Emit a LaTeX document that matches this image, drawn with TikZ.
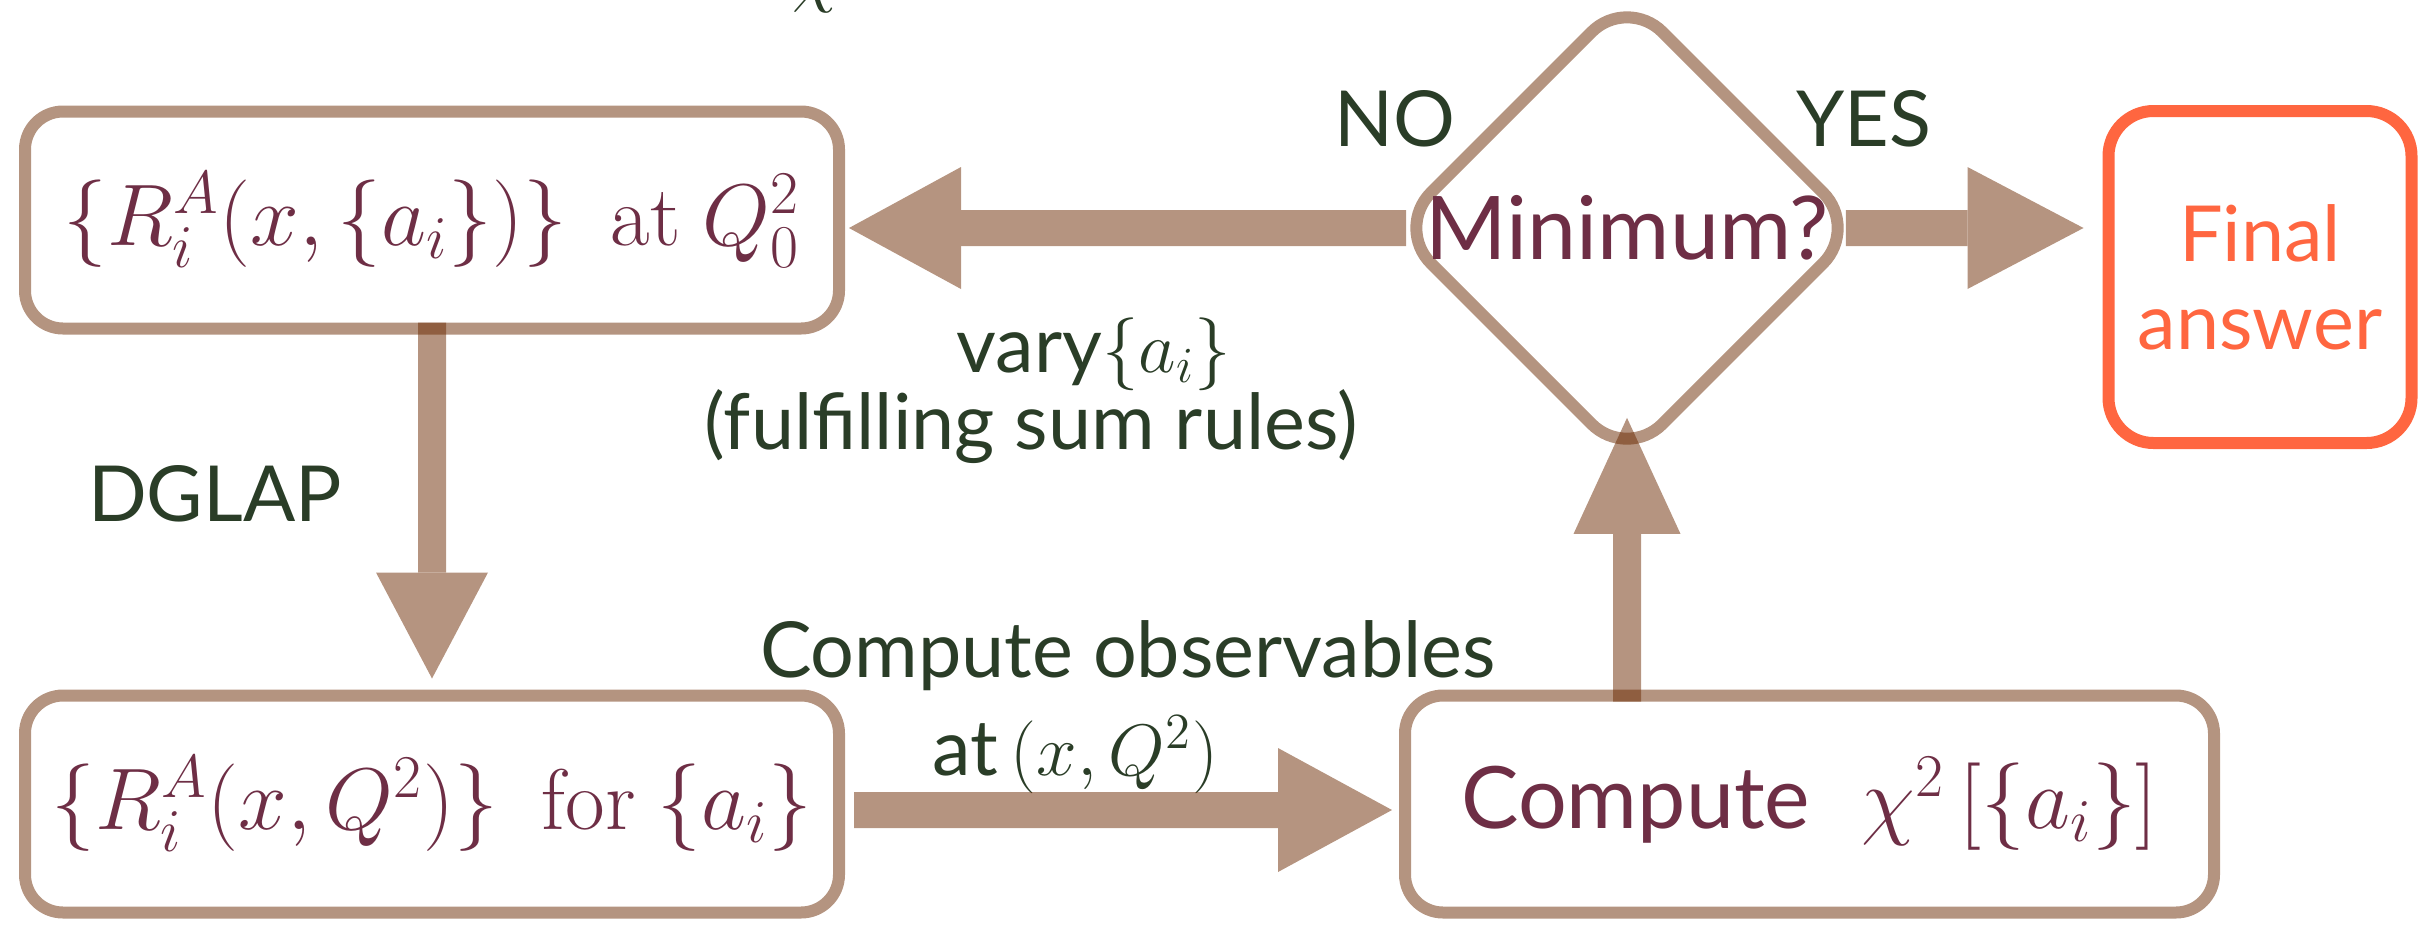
\documentclass[tikz,border=0pt]{standalone}
\usepackage{amsmath,amssymb}
\usepackage{fontspec}
\setsansfont{Lato}
\usetikzlibrary{arrows.meta,positioning,calc,shapes.geometric}
\definecolor{FitBrown}{HTML}{B49480}
\definecolor{FitArrow}{RGB}{107,41,1}
\definecolor{FitMaroon}{HTML}{6E2E45}
\definecolor{FitGreen}{HTML}{2A3D27}
\definecolor{FitOrange}{HTML}{FF6640}
\begin{document}
\begin{tikzpicture}[every node/.style={font=\sffamily\fontsize{22}{25}\selectfont}]
    \tikzset{box/.style={draw=FitBrown,fill=white,line width=0.12cm,rounded corners=0.38cm,
      minimum width=8.14cm,minimum height=2.17cm,inner sep=0pt,text=FitMaroon,align=center,
      font=\sffamily\fontsize{24.5}{28}\selectfont},
      lbl/.style={text=FitGreen,anchor=base,inner sep=0pt},
      flow/.style={FitArrow,line width=0.36cm}}
    \useasboundingbox (0,0) rectangle (24.3,-9.26);
    \node[box] (init) at (4.32,-2.20) {$\{R_i^A(x,\{a_i\})\}\ \ \mathrm{at}\ Q_0^2$};
    \node[box,below=3.55cm of init] (evol) {$\{R_i^A(x,Q^2)\}\ \ \mathrm{for}\ \{a_i\}$};
    \node[box,minimum width=8.09cm,right=5.54cm of evol] (chisq) {Compute\hspace{0.6em}$\chi^2\,[\{a_i\}]$};
    \node[diamond,draw=FitBrown,fill=white,line width=0.12cm,rounded corners=0.5cm,inner sep=0pt,
      minimum width=4.60cm,minimum height=4.50cm,text=FitMaroon,
      font=\sffamily\fontsize{25}{28}\selectfont] (check) at (16.27,-2.28) {Minimum?};
    \node[box,draw=FitOrange,text=FitOrange,rounded corners=0.45cm,minimum width=3.03cm,
      minimum height=3.32cm,font=\sffamily\fontsize{22}{25}\selectfont] (final) at (22.60,-2.77) {Final\\answer};
    % labels
    \node[lbl] (chi) at (8.15,0.02) {$\chi$};
    \node[lbl] (no) at (13.95,-1.46) {NO};
    \node[lbl] (yes) at (18.64,-1.46) {YES};
    \node[lbl] (vary) at (10.94,-3.72) {vary$\{a_i\}$};
    \node[lbl] (sumr) at (10.31,-4.49) {(fulfilling sum rules)};
    \node[lbl] (dglap) at (2.15,-5.21) {DGLAP};
    \node[lbl] (obs) at (11.28,-6.77) {Compute observables};
    \node[lbl] (obsat) at (10.75,-7.75) {at\,$(x,Q^2)$};
    % arrows
    \begin{scope}[transparency group,opacity=0.5]
      \draw[flow,line width=0.28cm,-{Triangle[length=1.06cm,width=1.12cm,line width=0pt]},
        shorten <=-0.12cm,shorten >=0.11cm] (init.south) -- (evol.north);
      \draw[flow,-{Triangle[length=1.14cm,width=1.24cm,line width=0pt]},
        shorten <=0.09cm,shorten >=0.07cm] ([yshift=-0.06cm]evol.east) -- ([yshift=-0.06cm]chisq.west);
      \draw[flow,line width=0.28cm,-{Triangle[length=1.16cm,width=1.07cm,line width=0pt]},
        shorten <=-0.12cm,shorten >=-0.5cm] (check.south |- chisq.north) -- (check.south);
      \draw[flow,-{Triangle[length=1.12cm,width=1.22cm,line width=0pt]},
        shorten <=-0.19cm,shorten >=0.04cm] (check.west) -- (check.west -| init.east);
      \draw[flow,-{Triangle[length=1.16cm,width=1.22cm,line width=0pt]},
        shorten <=-0.21cm,shorten >=0.19cm] (check.east) -- (check.east -| final.west);
    \end{scope}
\end{tikzpicture}
\end{document}
